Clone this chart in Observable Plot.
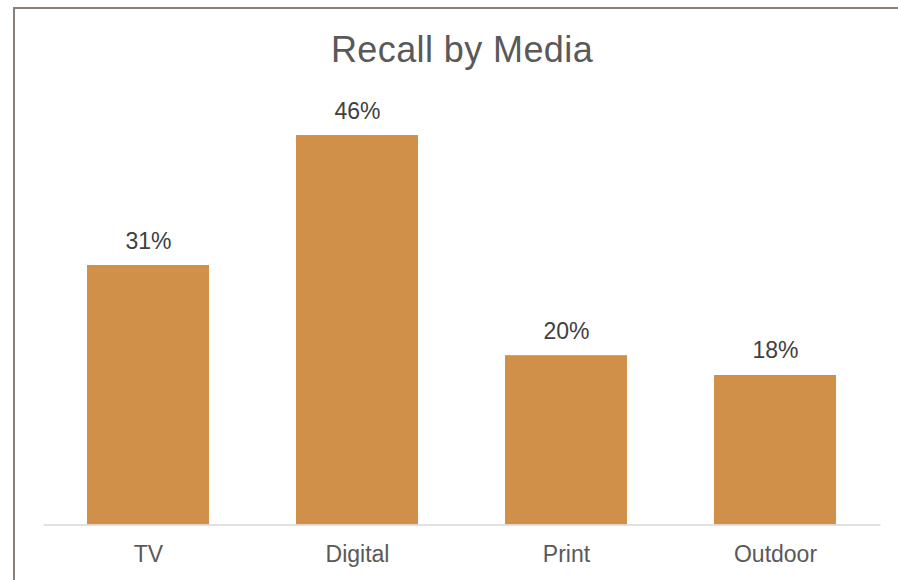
<!DOCTYPE html>
<html>
<head>
<meta charset="utf-8">
<script src="https://cdn.jsdelivr.net/npm/d3@7"></script>
<script src="https://cdn.jsdelivr.net/npm/@observablehq/plot@0.6"></script>
<style>
  html, body { margin: 0; padding: 0; background: #fff; overflow: hidden; }
  #wrap { position: relative; width: 898px; height: 580px; font-family: "Liberation Sans", Arial, sans-serif; }
  #frame { position: absolute; left: 13px; top: 7px; width: 900px; height: 600px;
           border-left: 2px solid #8c8178; border-top: 2px solid #8c8178; box-sizing: border-box; }
  #title { position: relative; height: 90px; box-sizing: border-box; padding-top: 32px; padding-left: 26px;
           font-size: 36px; line-height: 36px; color: #595959; text-align: center; letter-spacing: 0.4px; white-space: nowrap; }
  #chart { position: relative; }
</style>
</head>
<body>
<div id="wrap">
  <div id="frame"></div>
  <div id="title">Recall by Media</div>
  <div id="chart"></div>
</div>
<script>
const categories = ["TV", "Digital", "Print", "Outdoor"];
const recall = [0.3065, 0.46, 0.20, 0.1766];

const data = categories.map((c, i) => ({media: c, value: recall[i]}));

const plot = Plot.plot({
  width: 898,
  height: 490,
  marginLeft: 43.5,
  marginRight: 17.5,
  marginTop: 11.2,
  marginBottom: 55.5,
  style: {fontFamily: "'Liberation Sans', Arial, sans-serif", background: "transparent", overflow: "visible"},
  x: {domain: categories, paddingInner: 0.416, paddingOuter: 0.208, label: null},
  y: {domain: [0, 0.5], axis: null},
  marks: [
    Plot.barY(data, {x: "media", y: "value", fill: "#D0904A"}),
    Plot.ruleY([0], {stroke: "#d9d9d9", strokeWidth: 1.5}),
    Plot.text(data, {x: "media", y: "value", text: d => Math.round(d.value * 100) + "%",
      lineAnchor: "bottom", dy: -17, fontSize: 23, fill: "#404040"}),
    Plot.axisX({tickSize: 0, tickPadding: 21, fontSize: 23, color: "#595959", label: null})
  ]
});
plot.style.color = "#595959";
document.getElementById("chart").appendChild(plot);
</script>
</body>
</html>
